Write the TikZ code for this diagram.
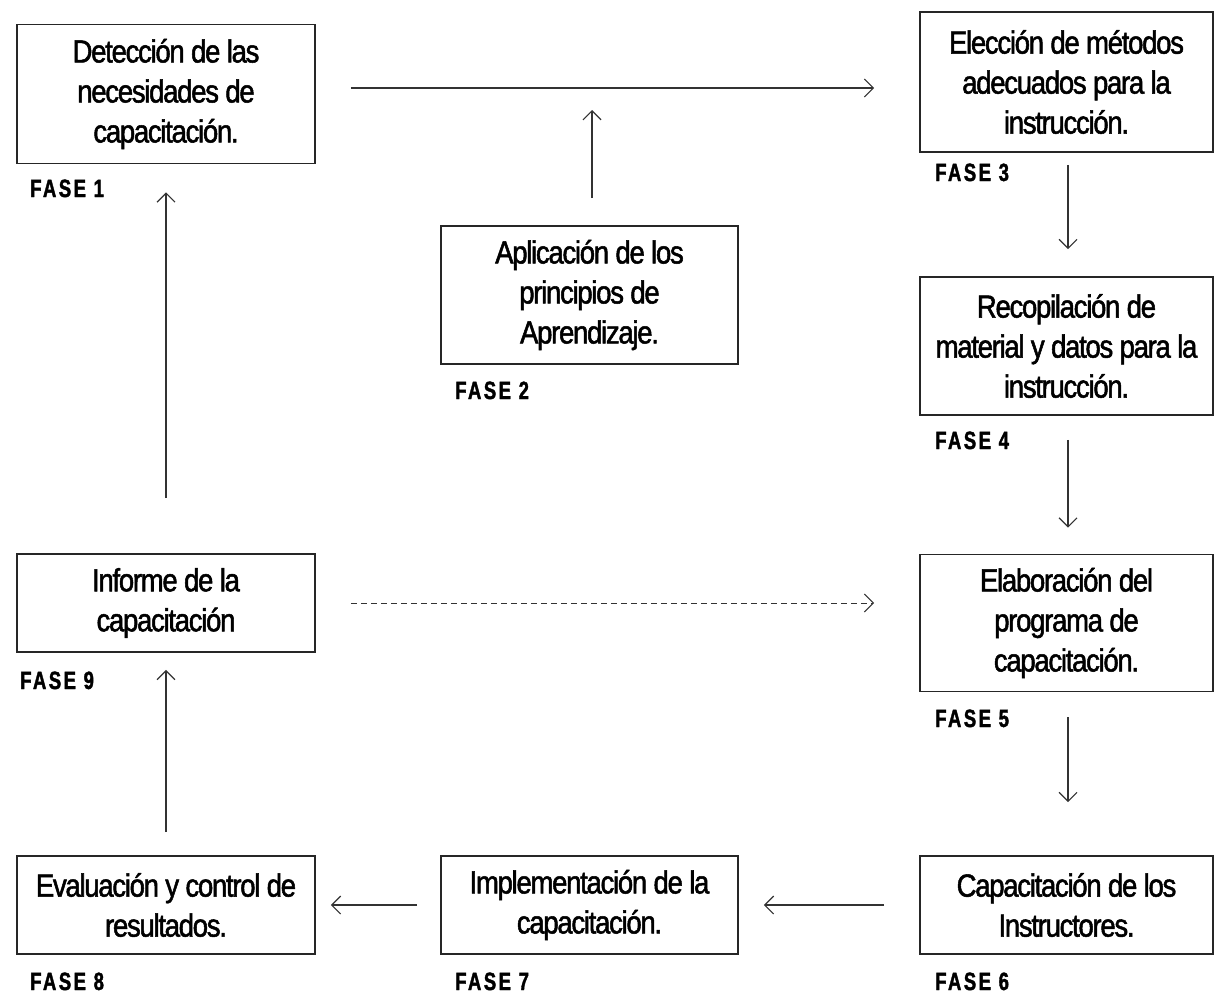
\documentclass[tikz,border=0pt]{standalone}
\usepackage{fontspec}
\newfontfamily\boxfont{Liberation Sans}[FakeStretch=0.86,FakeBold=1.6,LetterSpace=-4]
\newfontfamily\fasefont{Liberation Sans Bold}[FakeStretch=0.74,FakeBold=1.5,LetterSpace=10]
\usetikzlibrary{arrows.meta}
\tikzset{
  stepbox/.style={draw=black!85, line width=1.6pt, inner sep=0pt, align=center,
    font=\boxfont\fontsize{32}{40}\selectfont},
  faselabel/.style={anchor=base west, inner sep=0pt, font=\fasefont\fontsize{25}{25}\selectfont},
  flow/.style={draw=black!80, line width=1.4pt, -{Straight Barb[length=9pt,width=18pt,line width=1.2pt]}},
}
\begin{document}
\begin{tikzpicture}[x=1pt,y=-1pt]
\useasboundingbox (0,0) rectangle (1215,993);
% phase boxes
\node[stepbox, minimum width=298pt, minimum height=139pt] (b1) at (166,94)
  {Detección de las\\necesidades de\\capacitación.};
\node[stepbox, minimum width=297pt, minimum height=138pt] (b2) at (589.5,295)
  {Aplicación de los\\principios de\\Aprendizaje.};
\node[stepbox, minimum width=293pt, minimum height=140pt] (b3) at (1066.5,82)
  {Elección de métodos\\adecuados para la\\instrucción.};
\node[stepbox, minimum width=293pt, minimum height=138pt] (b4) at (1066.5,346)
  {Recopilación de\\material y datos para la\\instrucción.};
\node[stepbox, minimum width=293pt, minimum height=137pt] (b5) at (1066.5,623)
  {Elaboración del\\programa de\\capacitación.};
\node[stepbox, minimum width=293pt, minimum height=98pt] (b6) at (1066.5,905)
  {Capacitación de los\\Instructores.};
\node[stepbox, minimum width=297pt, minimum height=98pt] (b7) at (589.5,905)
  {Implementación de la\\capacitación.};
\node[stepbox, minimum width=298pt, minimum height=98pt] (b8) at (166,905)
  {Evaluación y control de\\resultados.};
\node[stepbox, minimum width=298pt, minimum height=98pt] (b9) at (166,603)
  {Informe de la\\capacitación};
% phase labels
\node[faselabel] (f1) at (30,197) {FASE 1};
\node[faselabel] (f2) at (455,399) {FASE 2};
\node[faselabel] (f3) at (935,181) {FASE 3};
\node[faselabel] (f4) at (935,449) {FASE 4};
\node[faselabel] (f5) at (935,727) {FASE 5};
\node[faselabel] (f6) at (935,990) {FASE 6};
\node[faselabel] (f7) at (455,990) {FASE 7};
\node[faselabel] (f8) at (30,990) {FASE 8};
\node[faselabel] (f9) at (20,689) {FASE 9};
% connectors
\coordinate (j12) at (592,110);
\draw[flow, shorten <=35pt, shorten >=45pt] ([yshift=6pt]b1.east) -- ([yshift=6pt]b1.east -| b3.west);
\draw[flow, shorten <=27pt] (b2.north -| j12) -- (j12);
\draw[flow, shorten <=12pt, shorten >=27pt] ([xshift=1.5pt]b3.south) -- ([xshift=1.5pt]b4.north);
\draw[flow, shorten <=24pt, shorten >=26pt] ([xshift=1.5pt]b4.south) -- ([xshift=1.5pt]b5.north);
\draw[flow, shorten <=25pt, shorten >=53pt] ([xshift=1.5pt]b5.south) -- ([xshift=1.5pt]b6.north);
\draw[flow, shorten <=35pt, shorten >=25pt] (b6.west) -- (b6.west -| b7.east);
\draw[flow, shorten <=23pt, shorten >=15pt] (b7.west) -- (b7.west -| b8.east);
\draw[flow, shorten <=23pt, shorten >=17pt] (b8.north) -- (b9.south);
\draw[flow, shorten <=55pt, shorten >=28pt] (b9.north) -- (b1.south);
\draw[flow, dash pattern=on 6pt off 4pt, line width=1pt, shorten <=35pt, shorten >=45pt]
  (b9.east) -- (b9.east -| b5.west);
\end{tikzpicture}
\end{document}
